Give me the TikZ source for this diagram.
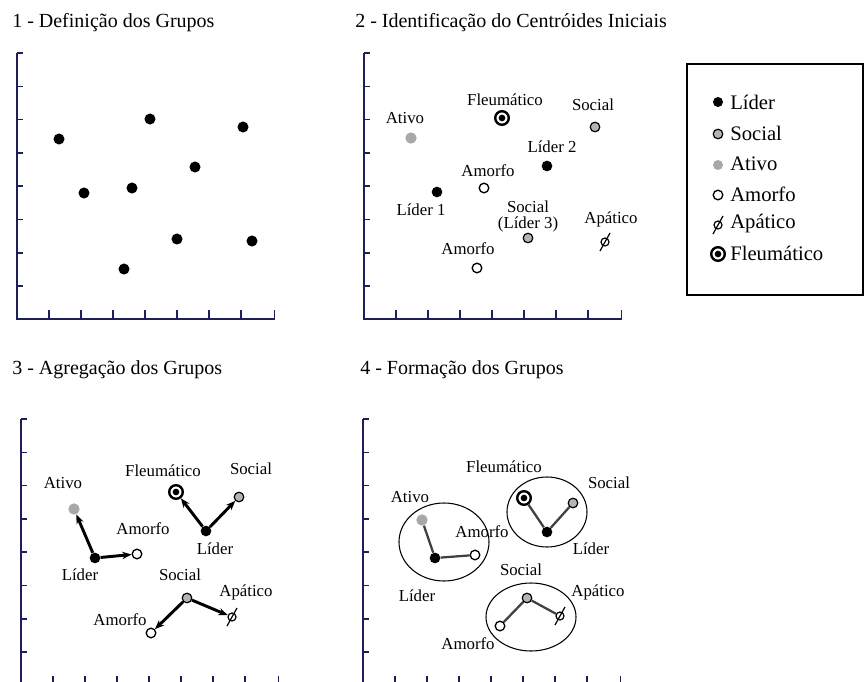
\documentclass[tikz,border=0pt]{standalone}
\usepackage{fontspec}
\setmainfont{Liberation Serif}
\usetikzlibrary{arrows.meta,shapes.geometric}
\definecolor{axiscol}{HTML}{1E1E5A}
\definecolor{ativocol}{HTML}{A8A8A8}
\definecolor{socialcol}{HTML}{B4B4B4}
\newcommand\drawaxes[2]{%
  \begin{scope}[shift={(#1,#2)}]
    \draw[axisline] (0,0) -- (0,266) -- (258,266);
    \foreach \t in {0,33.3,66.6,99.9,133.2,166.5,199.8,233.1}
      \draw[tickline] (0,\t) -- (6,\t);
    \foreach \t in {32,64,96,128,160,192,224,257.5}
      \draw[tickline] (\t,266) -- (\t,257);
  \end{scope}}
\newcommand\apslash[1]{\draw[line width=0.9pt] ([shift={(-5,9)}]#1.center) -- ([shift={(5,-9)}]#1.center);}
\begin{document}
\begin{tikzpicture}[x=0.75pt,y=-0.75pt,
  axisline/.style={draw=axiscol,line width=1.5pt,line join=miter},
  tickline/.style={draw=axiscol,line width=1.1pt},
  lider/.style={circle,fill=black,inner sep=0pt,minimum size=8pt},
  social/.style={circle,draw=black,line width=0.9pt,fill=socialcol,inner sep=0pt,minimum size=7.2pt},
  ativo/.style={circle,fill=ativocol,inner sep=0pt,minimum size=8.5pt},
  amorfo/.style={circle,draw=black,line width=1pt,fill=white,inner sep=0pt,minimum size=7.2pt},
  fleum/.style={circle,draw=black,line width=1.8pt,fill=white,inner sep=0pt,minimum size=10.2pt,
    path picture={\fill[black] (path picture bounding box.center) circle (2.5pt);}},
  apat/.style={circle,draw=black,line width=0.9pt,inner sep=0pt,minimum size=6pt},
  arr/.style={line width=2.2pt,-{Stealth[length=7pt,width=5.5pt]}},
  link/.style={line width=1.7pt,draw=black!75},
  grp/.style={ellipse,draw=black,line width=0.8pt,inner sep=0pt},
  lbl/.style={font=\fontsize{12.6}{14}\selectfont,inner sep=0pt},
  ttl/.style={font=\fontsize{15}{18}\selectfont,anchor=base west,inner sep=0pt},
  leg/.style={font=\fontsize{15.5}{18}\selectfont,anchor=west,inner sep=0pt}]
\useasboundingbox (0,0) rectangle (865,682);
\fill[white] (0,0) rectangle (865,682);

% titles
\node[ttl] (t1) at (12,27) {1 - Definição dos Grupos};
\node[ttl] (t2) at (355,27) {2 - Identificação do Centróides Iniciais};
\node[ttl] (t3) at (12,374) {3 - Agregação dos Grupos};
\node[ttl] (t4) at (360,374) {4 - Formação dos Grupos};

% axes
\drawaxes{17}{53}
\drawaxes{364}{53}
\drawaxes{21}{419}
\drawaxes{363}{419}

% panel 1
\foreach \p [count=\i] in {(59,139),(84,193),(132,188),(150,119),(195,167),(243,127),(177,239),(252,241),(124,269)}
  \node[lider,minimum size=8.3pt] (d\i) at \p {};

% panel 2
\node[ativo] (p2at) at (411,138) {};
\node[fleum] (p2fl) at (502,118) {};
\node[social] (p2soa) at (595,127) {};
\node[lider] (p2la) at (547,166) {};
\node[amorfo] (p2ama) at (484,188) {};
\node[lider] (p2lb) at (437,192) {};
\node[social] (p2sob) at (528,238) {};
\node[apat] (p2ap) at (605,242) {};
\apslash{p2ap}
\node[amorfo] (p2amb) at (477,268) {};
\node[lbl] (q2at) at (405,118) {Ativo};
\node[lbl] (q2fl) at (505,100) {Fleumático};
\node[lbl] (q2soa) at (593,105) {Social};
\node[lbl] (q2la) at (552,147) {Líder 2};
\node[lbl] (q2ama) at (488,171) {Amorfo};
\node[lbl] (q2lb) at (421,210) {Líder 1};
\node[lbl,align=center] (q2sob) at (528,216) {Social\\[-2pt](Líder 3)};
\node[lbl] (q2ap) at (611,219) {Apático};
\node[lbl] (q2amb) at (468,249) {Amorfo};

% legend
\draw[line width=1.6pt] (687,64) rectangle (863,295);
\node[lider,minimum size=7.5pt] (k1) at (718,102) {};
\node[social] (k2) at (718,134) {};
\node[ativo,minimum size=7.5pt] (k3) at (718,165) {};
\node[amorfo] (k4) at (718,195) {};
\node[apat] (k5) at (718,225) {};
\apslash{k5}
\node[fleum] (k6) at (718,254) {};
\node[leg] (m1) at (730,102) {Líder};
\node[leg] (m2) at (730,133) {Social};
\node[leg] (m3) at (730,164) {Ativo};
\node[leg] (m4) at (730,194) {Amorfo};
\node[leg] (m5) at (730,224) {Apático};
\node[leg] (m6) at (730,253) {Fleumático};

% panel 3
\node[ativo] (p3at) at (74,509) {};
\node[lider] (p3la) at (95,558) {};
\node[amorfo] (p3ama) at (137,554) {};
\node[fleum] (p3fl) at (176,492) {};
\node[lider] (p3lb) at (206,531) {};
\node[social] (p3soa) at (239,497) {};
\node[social] (p3sob) at (187,598) {};
\node[amorfo] (p3amb) at (151,633) {};
\node[apat] (p3ap) at (232,617) {};
\apslash{p3ap}
\draw[arr] (p3la) -- (p3at);
\draw[arr] (p3la) -- (p3ama);
\draw[arr] (p3lb) -- (p3fl);
\draw[arr] (p3lb) -- (p3soa);
\draw[arr] (p3sob) -- (p3amb);
\draw[arr] (p3sob) -- (p3ap);
\node[lbl] (q3at) at (63,483) {Ativo};
\node[lbl] (q3la) at (80,575) {Líder};
\node[lbl] (q3ama) at (143,529) {Amorfo};
\node[lbl] (q3fl) at (163,471) {Fleumático};
\node[lbl] (q3lb) at (215,549) {Líder};
\node[lbl] (q3soa) at (251,469) {Social};
\node[lbl] (q3sob) at (180,575) {Social};
\node[lbl] (q3amb) at (120,620) {Amorfo};
\node[lbl] (q3ap) at (246,592) {Apático};

% panel 4
\node[grp,minimum width=67.5pt,minimum height=58.5pt] (g1) at (444,542) {};
\node[grp,minimum width=60pt,minimum height=52.5pt] (g2) at (547,512) {};
\node[grp,minimum width=67.5pt,minimum height=51pt] (g3) at (531,617) {};
\node[ativo] (p4at) at (422,520) {};
\node[lider] (p4la) at (435,558) {};
\node[amorfo] (p4ama) at (475,555) {};
\node[fleum] (p4fl) at (524,498) {};
\node[lider] (p4lb) at (547,532) {};
\node[social] (p4soa) at (573,503) {};
\node[social] (p4sob) at (527,598) {};
\node[amorfo] (p4amb) at (500,626) {};
\node[apat] (p4ap) at (560,616) {};
\draw[link] (p4at) -- (p4la);
\draw[link] (p4la) -- (p4ama);
\draw[link] (p4fl) -- (p4lb);
\draw[link] (p4lb) -- (p4soa);
\draw[link] (p4amb) -- (p4sob);
\draw[link] (p4sob) -- (p4ap);
\apslash{p4ap}
\node[lbl] (q4at) at (410,497) {Ativo};
\node[lbl] (q4la) at (417,596) {Líder};
\node[lbl] (q4ama) at (482,532) {Amorfo};
\node[lbl] (q4fl) at (504,467) {Fleumático};
\node[lbl] (q4lb) at (591,549) {Líder};
\node[lbl] (q4soa) at (609,483) {Social};
\node[lbl] (q4sob) at (521,570) {Social};
\node[lbl] (q4amb) at (468,644) {Amorfo};
\node[lbl] (q4ap) at (598,592) {Apático};
\end{tikzpicture}
\end{document}
